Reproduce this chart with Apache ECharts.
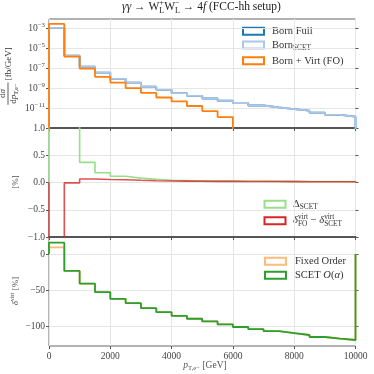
<!DOCTYPE html>
<html>
<head>
<meta charset="utf-8">
<script src="https://cdn.jsdelivr.net/npm/echarts@6/dist/echarts.min.js"></script>
<style>
  html, body { margin: 0; padding: 0; background: #fff; }
  #chart { width: 374px; height: 374px; }
</style>
</head>
<body>
<div id="chart"></div>
<script>
// bin edges of p_T,e- in GeV (500 GeV bins)
const binEdges = [0, 500, 1000, 1500, 2000, 2500, 3000, 3500, 4000, 4500, 5000,
  5500, 6000, 6500, 7000, 7500, 8000, 8500, 9000, 9500, 10000];
const xTicks = [0, 2000, 4000, 6000, 8000, 10000];

// top panel: dsigma/dpT [fb/GeV]
const bornScet = [1.1e-3, 1.8e-6, 1.4e-7, 3.6e-8, 8.5e-9, 3.6e-9, 1.4e-9, 6.8e-10, 3.2e-10, 1.7e-10,
  9.1e-11, 5.4e-11, 3.2e-11, 1.8e-11, 1.15e-11, 7.9e-12, 5.4e-12, 3.4e-12, 2.1e-12, 1.35e-12];
const bornFull = [1.1e-3, 1.8e-6, 1.4e-7, 3.6e-8, 8.5e-9, 3.6e-9, 1.4e-9, 6.8e-10, 3.2e-10, 1.7e-10,
  9.1e-11, 5.4e-11, 3.2e-11, 1.8e-11, 1.15e-11, 7.9e-12, 5.4e-12, 3.4e-12, 2.1e-12, 1.35e-12];
const bornVirtFO = [2.7e-3, 1.45e-6, 9.1e-8, 1.35e-8, 3.6e-9, 1.0e-9, 3.4e-10, 1.15e-10, 4.6e-11,
  1.6e-11, 5.0e-12, 1.26e-12];
const topTicks = [1e-11, 1e-9, 1e-7, 1e-5, 1e-3];

// middle panel [%]
const deltaScet = [4.0, 1.6, 0.37, 0.18, 0.116, 0.08, 0.06, 0.04, 0.034, 0.03, 0.027, 0.025,
  0.023, 0.022, 0.021, 0.02, 0.019, 0.018, 0.017, 0.016];
const deltaDiff = [-4.0, -0.006, 0.065, 0.055, 0.05, 0.04, 0.033, 0.028, 0.025, 0.023, 0.021, 0.02,
  0.019, 0.018, 0.017, 0.016, 0.015, 0.014, 0.013, 0.013];
const midTicks = [-1.0, -0.5, 0.0, 0.5, 1.0];

// bottom panel: delta virt [%]
const fixedOrder = [9.2, -23.4, -40.8, -52.7, -61.9, -67.9, -74.8, -80.3, -85.3, -89.4, -93.1,
  -97.2, -100.8, -103.6, -106.4, -109.1, -111.8, -114.6, -116.9, -118.7];
const scetVirt = [15.6, -23.4, -40.8, -52.7, -61.9, -67.9, -74.8, -80.3, -85.3, -89.4, -93.1,
  -97.2, -100.8, -103.6, -106.4, -109.1, -111.8, -114.6, -116.9, -118.7];
const botTicks = [-100, -50, 0];

const FAM = 'Liberation Serif';
const TXT = '#333';

// histogram outline like plt.stairs (baseline drawn at both ends)
function stairs(vals, base) {
  const pts = [[binEdges[0], base]];
  vals.forEach((v, i) => {
    pts.push([binEdges[i], v], [binEdges[i + 1], v]);
  });
  pts.push([binEdges[vals.length], base]);
  return pts;
}

// small helper for labels with sub/superscripts
const cv = document.createElement('canvas').getContext('2d');
function tw(t, size, ital) {
  cv.font = (ital ? 'italic ' : '') + size + 'px "' + FAM + '"';
  return cv.measureText(t).width;
}
function txtEl(t, x, y, size, ital, color) {
  return {
    type: 'text', x: x, y: y, silent: true,
    style: { text: t, fontSize: size, fontFamily: FAM, fontStyle: ital ? 'italic' : 'normal',
      fill: color || TXT, textVerticalAlign: 'middle' }
  };
}
function mathRow(parts, size, color) {
  const kids = [];
  const s2 = size * 0.7;
  let x = 0;
  parts.forEach(([t, k]) => {
    if (k === 'stack') {
      kids.push(txtEl(t[0], x, -size * 0.38, s2, false, color));
      kids.push(txtEl(t[1], x, size * 0.3, s2, false, color));
      x += Math.max(tw(t[0], s2), tw(t[1], s2));
    } else if (k === 'sup') {
      kids.push(txtEl(t, x, -size * 0.38, s2, false, color));
      x += tw(t, s2);
    } else if (k === 'sub') {
      kids.push(txtEl(t, x, size * 0.3, s2, false, color));
      x += tw(t, s2);
    } else {
      kids.push(txtEl(t, x, 0, size, k === 'i', color));
      x += tw(t, size, k === 'i');
    }
  });
  return { kids: kids, width: x };
}
function mathText(parts, size, o) {
  const r = mathRow(parts, size, o.color);
  const dx = o.align === 'left' ? 0 : -r.width / 2;
  r.kids.forEach(c => { c.x += dx; });
  return { type: 'group', x: o.x, y: o.y, rotation: o.rot || 0, children: r.kids, silent: true };
}

// y label of top panel: fraction + unit, rotated
function fracLabel(cx, cy, size) {
  const num = mathRow([['d', 'n'], ['σ', 'i']], size);
  const den = mathRow([['d', 'n'], ['p', 'i'], ['T,e−', 'sub']], size);
  const unit = mathRow([[' [fb/GeV]', 'n']], size);
  const W = Math.max(num.width, den.width) + 2;
  const T = W + unit.width;
  const x0 = -T / 2;
  const kids = [];
  num.kids.forEach(c => { c.x += x0 + (W - num.width) / 2; c.y -= size * 0.55; kids.push(c); });
  den.kids.forEach(c => { c.x += x0 + (W - den.width) / 2; c.y += size * 0.6; kids.push(c); });
  kids.push({ type: 'line', silent: true, shape: { x1: x0, y1: 0, x2: x0 + W, y2: 0 },
    style: { stroke: TXT, lineWidth: 0.8 } });
  unit.kids.forEach(c => { c.x += x0 + W; c.y += size * 0.12; kids.push(c); });
  return { type: 'group', x: cx, y: cy, rotation: Math.PI / 2, children: kids, silent: true };
}

function legendBox(x, y, color) {
  return { type: 'rect', silent: true, shape: { x: x, y: y - 3.5, width: 21, height: 7 },
    style: { fill: '#fff', stroke: color, lineWidth: 2 } };
}

const tickFont = { fontFamily: FAM, fontSize: 9.5, color: '#444' };
const gridLine = { show: true, lineStyle: { color: '#e6e6e6', width: 1 } };
const frame = { show: true, borderColor: '#666', borderWidth: 1, backgroundColor: 'transparent' };

function fmtMinus(s) { return s.replace('-', '−'); }

function lineSeries(name, data, color, xi, yi, width, z) {
  return {
    name: name, type: 'line', xAxisIndex: xi, yAxisIndex: yi, data: data,
    showSymbol: false, symbol: 'none', silent: true, clip: true, z: z,
    lineStyle: { color: color, width: width || 1.8 }
  };
}

const yLeft = (extra) => Object.assign({
  position: 'left',
  axisLine: { show: false },
  axisTick: { show: true, length: 3, inside: false, lineStyle: { color: '#555' } },
  splitLine: gridLine
}, extra);
const yRight = (extra) => Object.assign({
  position: 'right',
  axisLine: { show: false },
  axisTick: { show: true, length: 3, inside: false, lineStyle: { color: '#555' } },
  axisLabel: { show: false },
  splitLine: { show: false }
}, extra);

const topMin = 1e-13, topMax = Math.pow(10, -2.07);

const option = {
  animation: false,
  backgroundColor: '#fff',
  grid: [
    Object.assign({ left: 49, top: 19, width: 306.5, height: 109 }, frame),
    Object.assign({ left: 49, top: 128, width: 306.5, height: 109 }, frame),
    Object.assign({ left: 49, top: 237, width: 306.5, height: 109 }, frame)
  ],
  xAxis: [0, 1, 2].map(i => ({
    type: 'value', gridIndex: i, min: 0, max: 10000, interval: 2000,
    axisLine: { show: i < 2, onZero: false, lineStyle: { color: '#555', width: 2 } },
    axisTick: { show: true, length: 3, lineStyle: { color: '#555' } },
    axisLabel: { show: i === 2, margin: 5, fontFamily: FAM, fontSize: 9.5, color: '#444',
      formatter: v => String(v) },
    splitLine: gridLine
  })),
  yAxis: [
    yLeft({
      type: 'log', gridIndex: 0, min: topMin, max: topMax,
      axisTick: { show: true, length: 3, customValues: topTicks, lineStyle: { color: '#555' } },
      axisLabel: {
        customValues: topTicks, margin: 4,
        formatter: v => '{b|10}{s|−' + (-Math.round(Math.log10(v))) + '}',
        rich: {
          b: { fontFamily: FAM, fontSize: 9.5, color: '#444' },
          s: { fontFamily: FAM, fontSize: 6.8, color: '#444', padding: [0, 0, 6, 0] }
        }
      }
    }),
    yRight({
      type: 'log', gridIndex: 0, min: topMin, max: topMax,
      axisTick: { show: true, length: 3, customValues: topTicks, lineStyle: { color: '#555' } }
    }),
    yLeft({
      type: 'value', gridIndex: 1, min: -1, max: 1, interval: 0.5,
      axisLabel: Object.assign({ margin: 4, formatter: v => fmtMinus(v.toFixed(1)) }, tickFont)
    }),
    yRight({ type: 'value', gridIndex: 1, min: -1, max: 1, interval: 0.5 }),
    yLeft({
      type: 'value', gridIndex: 2, min: -127, max: 23.5,
      axisTick: { show: true, length: 3, customValues: botTicks, lineStyle: { color: '#555' } },
      axisLabel: Object.assign({ margin: 4, customValues: botTicks, formatter: v => fmtMinus(String(v)) }, tickFont)
    }),
    yRight({
      type: 'value', gridIndex: 2, min: -127, max: 23.5,
      axisTick: { show: true, length: 3, customValues: botTicks, lineStyle: { color: '#555' } }
    })
  ],
  series: [
    lineSeries('Born Full', stairs(bornFull, 1e-30), '#1f77b4', 0, 0, 1.8, 2),
    lineSeries('Born SCET', stairs(bornScet, 1e-30), '#aec7e8', 0, 0, 1.8, 3),
    lineSeries('Born + Virt (FO)', stairs(bornVirtFO, 1e-30), '#ff7f0e', 0, 0, 1.8, 4),
    lineSeries('Delta SCET', stairs(deltaScet, 0), '#98df8a', 1, 2, 1.6, 3),
    lineSeries('delta FO - delta SCET', stairs(deltaDiff, 0), 'rgba(214,39,40,0.8)', 1, 2, 1.6, 4),
    lineSeries('Fixed Order', stairs(fixedOrder, 0), '#ffbb78', 2, 4, 1.8, 3),
    lineSeries('SCET O(alpha)', stairs(scetVirt, 0), '#2ca02c', 2, 4, 1.8, 4)
  ],
  graphic: [
    // title
    mathText([['γγ', 'i'], [' → W', 'n'], [['+', 'L'], 'stack'], ['W', 'n'], [['−', 'L'], 'stack'],
      [' → 4', 'n'], ['f', 'i'], [' (FCC-hh setup)', 'n']], 11.5, { x: 201.5, y: 7, color: '#222' }),
    // axis labels
    fracLabel(8, 76, 9),
    mathText([['[%]', 'n']], 9, { x: 15.5, y: 182, rot: Math.PI / 2, color: '#555' }),
    mathText([['δ', 'i'], ['virt', 'sup'], [' [%]', 'n']], 9, { x: 16, y: 291, rot: Math.PI / 2, color: '#555' }),
    mathText([['p', 'i'], ['T,e−', 'sub'], [' [GeV]', 'n']], 9.5, { x: 205, y: 365, color: '#555' }),
    // legend top
    legendBox(243, 31.3, '#1f77b4'),
    mathText([['Born Full', 'n']], 10.5, { x: 272, y: 31.3, align: 'left' }),
    legendBox(243, 45, '#aec7e8'),
    mathText([['Born', 'n'], ['SCET', 'sub']], 10.5, { x: 272, y: 45, align: 'left' }),
    legendBox(243, 60.8, '#ff7f0e'),
    mathText([['Born + Virt (FO)', 'n']], 10.5, { x: 272, y: 60.8, align: 'left' }),
    // legend middle
    legendBox(264.5, 204.3, '#98df8a'),
    mathText([['Δ', 'n'], ['SCET', 'sub']], 10.5, { x: 293, y: 204.3, align: 'left' }),
    legendBox(264.5, 220.7, '#d62728'),
    mathText([['δ', 'i'], [['virt', 'FO'], 'stack'], [' − ', 'n'], ['δ', 'i'], [['virt', 'SCET'], 'stack']],
      10.5, { x: 293, y: 220.7, align: 'left' }),
    // legend bottom
    legendBox(265, 261.3, '#ffbb78'),
    mathText([['Fixed Order', 'n']], 10.5, { x: 295, y: 261.3, align: 'left' }),
    legendBox(265, 275.3, '#2ca02c'),
    mathText([['SCET ', 'n'], ['O', 'i'], ['(', 'n'], ['α', 'i'], [')', 'n']], 10.5,
      { x: 295, y: 275.3, align: 'left' })
  ]
};

const chart = echarts.init(document.getElementById('chart'), null, { renderer: 'canvas' });
chart.setOption(option);
</script>
</body>
</html>
